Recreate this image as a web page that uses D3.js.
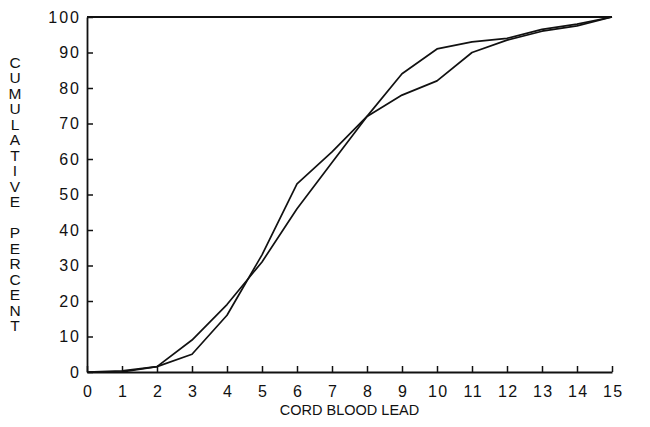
<!DOCTYPE html>
<html>
<head>
<meta charset="utf-8">
<script src="https://cdn.jsdelivr.net/npm/d3@7"></script>
<style>
  html, body { margin: 0; padding: 0; background: #fff; }
  svg { display: block; }
  text { font-family: "Liberation Sans", Arial, Helvetica, sans-serif; fill: #111; }
</style>
</head>
<body>
<script>
// ---- data ----
const leadLevels = [0, 1, 2, 3, 4, 5, 6, 7, 8, 9, 10, 11, 12, 13, 14, 15];
const seriesA = [0, 0, 1.5, 5, 16, 33, 53, 62, 72, 78, 82, 90, 93.5, 96, 97.5, 100];
const seriesB = [0, 0.3, 1.5, 9, 19, 31, 46, 59, 72, 84, 91, 93, 94, 96.5, 98, 100];
const xTicks = [0, 1, 2, 3, 4, 5, 6, 7, 8, 9, 10, 11, 12, 13, 14, 15];
const yTicks = [0, 10, 20, 30, 40, 50, 60, 70, 80, 90, 100];
const xTitle = "CORD BLOOD LEAD";
const yTitleLetters = "CUMULATIVE PERCENT".split("");

// ---- layout ----
const W = 650, H = 427;
const margin = {left: 87, right: 38, top: 17, bottom: 55};
const iw = W - margin.left - margin.right;
const ih = H - margin.top - margin.bottom;

const svg = d3.select("body").append("svg").attr("width", W).attr("height", H);
const g = svg.append("g").attr("transform", `translate(${margin.left},${margin.top})`);

const x = d3.scaleLinear().domain([0, 15]).range([0, iw]);
const y = d3.scaleLinear().domain([0, 100]).range([ih, 0]);

// axes
const xAxis = d3.axisBottom(x).tickValues(xTicks).tickFormat(d3.format("d"))
  .tickSizeInner(-6).tickSizeOuter(0).tickPadding(14);
const gx = g.append("g").attr("transform", `translate(0,${ih})`).call(xAxis);
gx.selectAll("text").attr("font-size", 16).style("letter-spacing", "1.5px").attr("dx", "0.05em");

const yAxis = d3.axisLeft(y).tickValues(yTicks).tickFormat(d3.format("d"))
  .tickSizeInner(-6).tickSizeOuter(0).tickPadding(6);
const gy = g.append("g").call(yAxis);
gy.selectAll("text").attr("font-size", 16).style("letter-spacing", "2px");

[gx, gy].forEach(a => {
  a.select(".domain").attr("stroke", "#111").attr("stroke-width", 1.8);
  a.selectAll(".tick line").attr("stroke", "#111").attr("stroke-width", 1.5);
  a.selectAll("text").attr("fill", "#111");
});

// top frame line
g.append("line")
  .attr("x1", x(0)).attr("x2", x(15))
  .attr("y1", y(100)).attr("y2", y(100))
  .attr("stroke", "#111").attr("stroke-width", 1.8);

// lines
const line = d3.line().x((d, i) => x(leadLevels[i])).y(d => y(d));
[seriesA, seriesB].forEach(s => {
  g.append("path").datum(s)
    .attr("fill", "none").attr("stroke", "#111")
    .attr("stroke-width", 1.7).attr("stroke-linejoin", "round")
    .attr("d", line);
});

// x title
svg.append("text")
  .attr("x", margin.left + iw / 2).attr("y", 415)
  .attr("text-anchor", "middle").attr("font-size", 14.5)
  .text(xTitle);

// y title (stacked letters)
const yt = svg.append("text").attr("font-size", 15.5).attr("text-anchor", "middle");
yTitleLetters.forEach((ch, i) => {
  yt.append("tspan")
    .attr("x", 15)
    .attr("y", 62 + i * 15.5 + 5.5)
    .text(ch === " " ? "\u00a0" : ch);
});
</script>
</body>
</html>
